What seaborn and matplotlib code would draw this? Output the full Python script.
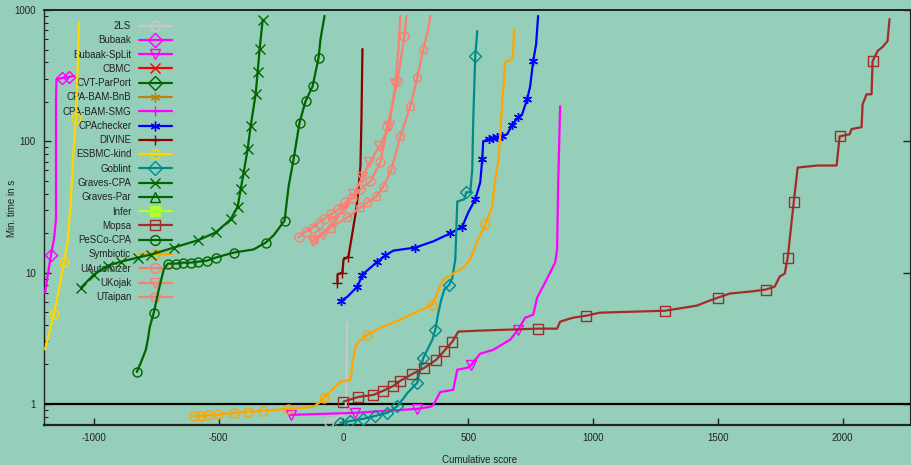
import matplotlib
matplotlib.use('Agg')
import matplotlib.pyplot as plt
from matplotlib.lines import Line2D
import pandas as pd
import seaborn as sns

# legend order, colours and marks of the tools
tools = ['2LS', 'Bubaak', 'Bubaak-SpLit', 'CBMC', 'CVT-ParPort', 'CPA-BAM-BnB',
         'CPA-BAM-SMG', 'CPAchecker', 'DIVINE', 'ESBMC-kind', 'Goblint',
         'Graves-CPA', 'Graves-Par', 'Infer', 'Mopsa', 'PeSCo-CPA', 'Symbiotic',
         'UAutomizer', 'UKojak', 'UTaipan']
colors = ['#c8c8c8', '#ff00ff', '#ff00ff', '#ff0000', '#006400', '#b8860b',
          '#ff00ff', '#0000ff', '#8b0000', '#ffd700', '#008b8b',
          '#006400', '#006400', '#adff2f', '#a52a2a', '#006400', '#ffa500',
          '#fa8072', '#fa8072', '#fa8072']
marks = ['o', 'D', 'v', 'x', 'D', (6, 2, 0),
         '+', (6, 2, 0), '+', 'o', 'D',
         'x', '^', 's', 's', 'o', 'o',
         'o', 'v', 'p']

# quantile data: cumulative score vs. min. time (s)
x_2ls = [-60, -30, 8, 12, 14]
y_2ls = [0.73, 0.78, 0.86, 1.5, 4.15]

x_bubaak = [-1196, -1172, -1160, -1152, -1152, -1152, -1150, -1128, -1100, -1080]
y_bubaak = [7.0, 13.7, 17.9, 25.4, 86.9, 209, 297, 303, 309, 315]

x_splt = [-212, 48, 296, 348, 360, 388, 440, 456, 496, 512, 548, 600, 668, 700,
          728, 760, 776, 808, 828, 848, 856, 860, 868]
y_splt = [0.824, 0.854, 0.916, 0.95, 0.98, 1.23, 1.28, 1.82, 1.88, 1.98, 2.41, 2.58,
          3.08, 3.67, 4.53, 4.77, 6.44, 8.4, 10.0, 11.9, 15.0, 45.2, 185]

x_cpa = [-8, 16, 56, 76, 108, 136, 168, 200, 288, 360, 428, 476, 500, 528, 548,
         556, 560, 584, 600, 616, 636, 656, 676, 700, 716, 736, 748, 760, 772, 776, 780]
y_cpa = [6.11, 6.56, 7.82, 9.66, 10.9, 12.1, 13.5, 14.7, 15.5, 17.3, 19.9, 22.4,
         28.7, 36.1, 48.7, 72.9, 100, 104, 106, 107, 110, 113, 134, 152, 161, 209,
         262, 407, 551, 716, 901]

x_divine = [-24, -24, -4, 0, 20, 28, 36, 48, 56, 68, 72, 76]
y_divine = [8.4, 9.66, 10.0, 12.6, 13.2, 16.4, 20.2, 27.8, 36.1, 64.6, 147, 504]

x_esbmc = [-1196, -1160, -1140, -1120, -1104, -1092, -1084, -1072, -1064, -1060]
y_esbmc = [2.6, 4.86, 7.42, 12.1, 17.9, 36.1, 72.9, 150, 423, 795]

x_goblint = [-12, 28, 80, 128, 176, 216, 240, 256, 296, 304, 320, 336, 356, 368,
             380, 392, 404, 424, 436, 448, 456, 484, 492, 508, 516, 520, 528, 536]
y_goblint = [0.716, 0.74, 0.77, 0.81, 0.854, 0.96, 1.10, 1.21, 1.45, 1.72, 2.24,
             2.58, 3.08, 3.67, 4.95, 6.22, 7.42, 8.1, 9.1, 12.6, 34.8, 36.1, 40.9,
             40.9, 61.1, 147, 446, 692]

x_graves = [-1052, -1000, -944, -892, -824, -772, -680, -584, -512, -452, -424,
            -412, -400, -384, -372, -352, -344, -336, -324]
y_graves = [7.67, 9.66, 11.3, 12.1, 13.0, 13.7, 15.5, 17.6, 20.2, 25.4, 31.8,
            43.0, 57.7, 86.9, 130, 228, 336, 504, 836]

x_mopsa = [0, 60, 120, 160, 200, 228, 276, 324, 372, 404, 436, 460, 540, 780, 856,
           868, 920, 972, 1028, 1288, 1416, 1456, 1500, 1548, 1640, 1692, 1728,
           1748, 1768, 1780, 1788, 1804, 1820, 1900, 1976, 1988, 2028, 2036, 2076,
           2080, 2096, 2116, 2120, 2140, 2160, 2180, 2188]
y_mopsa = [1.04, 1.13, 1.17, 1.26, 1.37, 1.50, 1.69, 1.88, 2.17, 2.54, 2.97, 3.55,
           3.61, 3.74, 3.74, 4.23, 4.53, 4.69, 4.95, 5.12, 5.60, 6.0, 6.44, 6.92,
           7.2, 7.42, 7.82, 9.33, 9.82, 13.0, 17.9, 34.2, 63.1, 65.4, 65.4, 109,
           113, 124, 128, 191, 228, 228, 407, 487, 523, 580, 853]

x_pesco = [-828, -812, -792, -784, -776, -760, -740, -720, -704, -672, -644, -612,
           -584, -548, -512, -440, -360, -312, -280, -236, -220, -200, -176, -152,
           -124, -100, -92, -76]
y_pesco = [1.75, 2.06, 2.58, 3.08, 3.87, 4.95, 7.42, 10.6, 11.7, 11.7, 11.9, 11.9,
           12.1, 12.3, 13.0, 14.2, 15.0, 16.9, 19.2, 24.9, 45.2, 72.9, 139, 202,
           262, 430, 601, 901]

x_symb = [-600, -572, -544, -504, -440, -384, -324, -224, -120, -92, -80, -40, -12,
          28, 36, 48, 60, 96, 148, 228, 296, 356, 376, 400, 480, 508, 536, 568,
          596, 608, 620, 628, 636, 648, 676, 680, 684]
y_symb = [0.81, 0.81, 0.82, 0.83, 0.854, 0.87, 0.884, 0.916, 0.949, 1.04, 1.10,
          1.32, 1.47, 1.52, 2.06, 2.72, 2.97, 3.36, 3.80, 4.38, 5.04, 5.69, 7.04,
          8.84, 10.9, 12.6, 17.3, 23.3, 31.8, 51.3, 70.3, 109, 198, 401, 423, 504, 716]

x_uauto = [-180, -152, -124, -100, -80, -52, -20, 8, 36, 68, 108, 148, 176, 216, 244, 252]
y_uauto = [18.5, 20.5, 22.0, 24.0, 25.4, 27.8, 30.3, 34.2, 37.3, 43.0, 49.5, 69.1,
           130, 287, 633, 901]

x_ukojak = [-124, -84, -40, 0, 40, 76, 104, 144, 184, 208, 220, 228]
y_ukojak = [17.3, 19.5, 24.5, 30.3, 39.4, 53.2, 69.1, 91.5, 130, 272, 504, 901]

x_utaipan = [-120, -52, 16, 68, 96, 132, 160, 192, 228, 268, 296, 320, 340, 348]
y_utaipan = [17.9, 22.0, 26.3, 31.4, 34.2, 38.1, 45.2, 61.1, 109, 185, 307, 504, 716, 901]

series = {
    '2LS': (x_2ls, y_2ls, [0]),
    'Bubaak': (x_bubaak, y_bubaak, [1, 7, 8]),
    'Bubaak-SpLit': (x_splt, y_splt, [0, 1, 2, 9, 13]),
    'CPAchecker': (x_cpa, y_cpa, [0, 2, 3, 5, 6, 8, 10, 11, 13, 15, 17, 18, 19, 20, 22, 23, 25, 27]),
    'DIVINE': (x_divine, y_divine, [0, 2, 4]),
    'ESBMC-kind': (x_esbmc, y_esbmc, [1, 3, 7]),
    'Goblint': (x_goblint, y_goblint, [0, 1, 2, 3, 4, 5, 8, 10, 13, 17, 22, 26]),
    'Graves-CPA': (x_graves, y_graves, list(range(0, 19))),
    'Mopsa': (x_mopsa, y_mopsa, [0, 1, 2, 3, 4, 5, 6, 7, 8, 9, 10, 13, 17, 19, 22, 25, 29, 31, 35, 42]),
    'PeSCo-CPA': (x_pesco, y_pesco, [0, 5, 8, 9, 10, 11, 12, 13, 14, 15, 17, 19, 21, 22, 23, 24, 25]),
    'Symbiotic': (x_symb, y_symb, [0, 1, 2, 3, 4, 5, 6, 7, 10, 17, 21, 27]),
    'UAutomizer': (x_uauto, y_uauto, list(range(0, 15))),
    'UKojak': (x_ukojak, y_ukojak, list(range(0, 10))),
    'UTaipan': (x_utaipan, y_utaipan, list(range(0, 12))),
}

bg = '#95cfb9'
fs = 7
sns.set_style('ticks')
plt.rcParams['font.family'] = ['Liberation Sans', 'DejaVu Sans']
plt.rcParams['text.color'] = '#222222'

fig = plt.figure(figsize=(9.11, 4.65), dpi=100, facecolor=bg)
ax = fig.add_axes([44 / 911, 1 - 425 / 465, 866 / 911, 415 / 465])
ax.set_facecolor(bg)
ax.set_yscale('log')

for name, (xs, ys, mk) in series.items():
    i = tools.index(name)
    df = pd.DataFrame({'score': xs, 'time': ys})
    sns.lineplot(data=df, x='score', y='time', ax=ax, sort=False, estimator=None,
                 color=colors[i], lw=1.6, marker=marks[i], markevery=mk,
                 markersize=6.5, markerfacecolor='none', markeredgecolor=colors[i],
                 markeredgewidth=1.0, legend=False, zorder=3)

# 1 s reference line
ax.axhline(1, color='black', lw=1.6, zorder=2)

ax.set_xlim(-1200, 2270)
ax.set_ylim(0.69, 1000)
ax.set_xticks([-1000, -500, 0, 500, 1000, 1500, 2000])
ax.set_xticklabels(['-1000', '-500', '0', '500', '1000', '1500', '2000'])
ax.set_yticks([1, 10, 100, 1000])
ax.set_yticklabels(['1', '10', '100', '1000'])
ax.tick_params(axis='both', which='major', direction='in', length=5, width=1,
               labelsize=fs, colors='#222222', pad=6)
ax.tick_params(axis='y', which='minor', direction='in', length=3, width=0.8,
               colors='#222222')
ax.tick_params(axis='y', which='major', right=True)
ax.tick_params(axis='x', which='minor', bottom=False)
ax.set_xlabel('')
ax.set_ylabel('')
for side in ['left', 'bottom', 'top', 'right']:
    ax.spines[side].set_color('#222222')
ax.spines['left'].set_linewidth(1.0)
ax.spines['bottom'].set_linewidth(1.6)
ax.spines['top'].set_linewidth(1.4)
ax.spines['right'].set_linewidth(0.8)

fig.text(480 / 911, 1 - 460 / 465, 'Cumulative score', fontsize=fs,
         ha='center', va='center')
fig.text(12 / 911, 1 - 208 / 465, 'Min. time in s', fontsize=fs,
         ha='center', va='center', rotation=90)

handles = []
for i, name in enumerate(tools):
    filled = name == 'Infer'
    handles.append(Line2D([], [], color=colors[i], lw=1.6, marker=marks[i],
                          markersize=7, markeredgewidth=1.0,
                          markerfacecolor=colors[i] if filled else 'none',
                          markeredgecolor=colors[i]))
leg = ax.legend(handles, tools, loc='upper right',
                bbox_to_anchor=(172 / 911, 1 - 21 / 465),
                bbox_transform=fig.transFigure, frameon=False, fontsize=fs,
                markerfirst=False, handlelength=3.4, handletextpad=0.8,
                labelspacing=0.44, borderpad=0, borderaxespad=0)
leg.set_zorder(1)

fig.savefig('out.png', dpi=100, facecolor=bg)
